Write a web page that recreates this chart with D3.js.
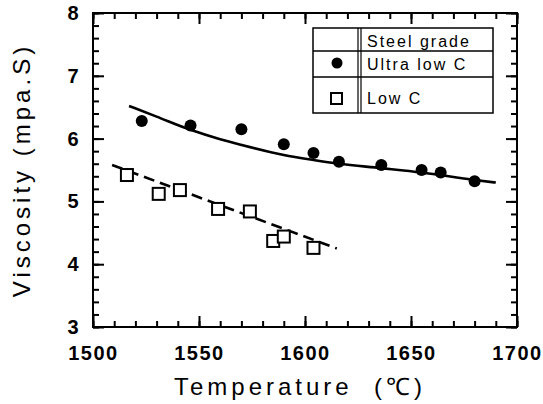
<!DOCTYPE html>
<meta charset="utf-8">
<title>Viscosity vs temperature</title>
<style>
  body { margin: 0; background: #fff; }
  svg { font-family: "Liberation Sans", Arial, sans-serif; }
  .tick text { font-size: 20px; font-weight: bold; letter-spacing: 1.5px; fill: #000; }
  .axis path.domain { display: none; }
  .axis line { stroke: #000; stroke-width: 2; }
  .title { font-size: 24px; letter-spacing: 4px; fill: #000; white-space: pre; }
  .legend text { font-size: 16px; letter-spacing: 2px; fill: #000; }
</style>
<body>
<script src="https://cdn.jsdelivr.net/npm/d3@7"></script>
<script>
// measured points
var ultraT = [1523, 1546, 1570, 1590, 1604, 1616, 1636, 1655, 1664, 1680];
var ultraV = [6.28, 6.21, 6.15, 5.91, 5.77, 5.63, 5.58, 5.50, 5.46, 5.32];
var lowT = [1516, 1531, 1541, 1559, 1574, 1585, 1590, 1604];
var lowV = [5.42, 5.12, 5.18, 4.88, 4.84, 4.37, 4.44, 4.26];

// fitted lines
var ultraFitT = [1517, 1530, 1546, 1560, 1570, 1590, 1604, 1616, 1636, 1655, 1680, 1690];
var ultraFitV = [6.52, 6.35, 6.14, 5.99, 5.90, 5.74, 5.66, 5.60, 5.53, 5.46, 5.34, 5.30];
var lowFitT = [1509, 1615];
var lowFitV = [5.58, 4.25];

var xTicks = [1500, 1550, 1600, 1650, 1700];
var yTicks = [3, 4, 5, 6, 7, 8];
var legendLabels = ["Steel grade", "Ultra low C", "Low C"];

var W = 543, H = 404;
var pL = 93, pR = 517, pT = 13, pB = 327;

var x = d3.scaleLinear().domain([1500, 1700]).range([pL, pR]);
var y = d3.scaleLinear().domain([3, 8]).range([pB, pT]);

var svg = d3.select("body").append("svg")
    .attr("width", W)
    .attr("height", H);

// minor ticks
var xMinor = d3.range(1500, 1701, 10);
var yMinor = d3.range(3, 8.01, 0.2);

svg.append("g").attr("class", "axis")
    .attr("transform", "translate(0," + pB + ")")
    .call(d3.axisBottom(x).tickValues(xMinor).tickSize(-6).tickFormat(""));
svg.append("g").attr("class", "axis")
    .attr("transform", "translate(0," + pT + ")")
    .call(d3.axisTop(x).tickValues(xMinor).tickSize(-6).tickFormat(""));
svg.append("g").attr("class", "axis")
    .attr("transform", "translate(" + pL + ",0)")
    .call(d3.axisLeft(y).tickValues(yMinor).tickSize(-6).tickFormat(""));
svg.append("g").attr("class", "axis")
    .attr("transform", "translate(" + pR + ",0)")
    .call(d3.axisRight(y).tickValues(yMinor).tickSize(-6).tickFormat(""));

// major ticks with labels
svg.append("g").attr("class", "axis")
    .attr("transform", "translate(0," + pB + ")")
    .call(d3.axisBottom(x).tickValues(xTicks).tickSize(-11).tickPadding(19).tickFormat(d3.format("d")));
svg.append("g").attr("class", "axis")
    .attr("transform", "translate(0," + pT + ")")
    .call(d3.axisTop(x).tickValues(xTicks).tickSize(-11).tickFormat(""));
svg.append("g").attr("class", "axis")
    .attr("transform", "translate(" + pL + ",0)")
    .call(d3.axisLeft(y).tickValues(yTicks).tickSize(-11).tickPadding(13).tickFormat(d3.format("d")));
svg.append("g").attr("class", "axis")
    .attr("transform", "translate(" + pR + ",0)")
    .call(d3.axisRight(y).tickValues(yTicks).tickSize(-11).tickFormat(""));

// frame
svg.append("rect")
    .attr("x", pL).attr("y", pT)
    .attr("width", pR - pL).attr("height", pB - pT)
    .attr("fill", "none").attr("stroke", "#000").attr("stroke-width", 2);

// fitted lines
var line = d3.line().curve(d3.curveMonotoneX);
svg.append("path")
    .attr("d", line(ultraFitT.map(function(t, i) { return [x(t), y(ultraFitV[i])]; })))
    .attr("fill", "none").attr("stroke", "#000").attr("stroke-width", 2.6);
svg.append("path")
    .attr("d", line(lowFitT.map(function(t, i) { return [x(t), y(lowFitV[i])]; })))
    .attr("fill", "none").attr("stroke", "#000").attr("stroke-width", 2.6)
    .attr("stroke-dasharray", "11,6");

// markers
svg.append("g").selectAll("circle")
    .data(ultraT)
    .enter().append("circle")
    .attr("cx", function(d) { return x(d); })
    .attr("cy", function(d, i) { return y(ultraV[i]); })
    .attr("r", 6)
    .attr("fill", "#000");

var sq = 12;
svg.append("g").selectAll("rect")
    .data(lowT)
    .enter().append("rect")
    .attr("x", function(d) { return x(d) - sq / 2; })
    .attr("y", function(d, i) { return y(lowV[i]) - sq / 2; })
    .attr("width", sq).attr("height", sq)
    .attr("fill", "#fff").attr("stroke", "#000").attr("stroke-width", 2);

// legend table
var lg = svg.append("g").attr("class", "legend");
var lx0 = 313, lx1 = 493, ly0 = 28, ly1 = 113;
lg.append("rect")
    .attr("x", lx0).attr("y", ly0).attr("width", lx1 - lx0).attr("height", ly1 - ly0)
    .attr("fill", "#fff").attr("stroke", "#000").attr("stroke-width", 1.5);
[51, 77].forEach(function(yy) {
  lg.append("line").attr("x1", lx0).attr("x2", lx1).attr("y1", yy).attr("y2", yy)
      .attr("stroke", "#000").attr("stroke-width", 1.5);
});
[358, 361].forEach(function(xx) {
  lg.append("line").attr("x1", xx).attr("x2", xx).attr("y1", ly0).attr("y2", ly1)
      .attr("stroke", "#000").attr("stroke-width", 1.2);
});
lg.selectAll("text")
    .data(legendLabels)
    .enter().append("text")
    .attr("x", 367)
    .attr("y", function(d, i) { return [47, 70, 104][i]; })
    .text(function(d) { return d; });
lg.append("circle").attr("cx", 337).attr("cy", 63).attr("r", 5.5).attr("fill", "#000");
lg.append("rect").attr("x", 331).attr("y", 93).attr("width", 11).attr("height", 11)
    .attr("fill", "#fff").attr("stroke", "#000").attr("stroke-width", 2);

// axis titles
svg.append("text").attr("class", "title")
    .attr("x", 300).attr("y", 395)
    .attr("text-anchor", "middle")
    .text("Temperature  (℃)");
svg.append("text").attr("class", "title")
    .attr("transform", "translate(30," + ((pT + pB) / 2) + ") rotate(-90)")
    .attr("text-anchor", "middle")
    .text("Viscosity (mpa.S)");
</script>
</body>
